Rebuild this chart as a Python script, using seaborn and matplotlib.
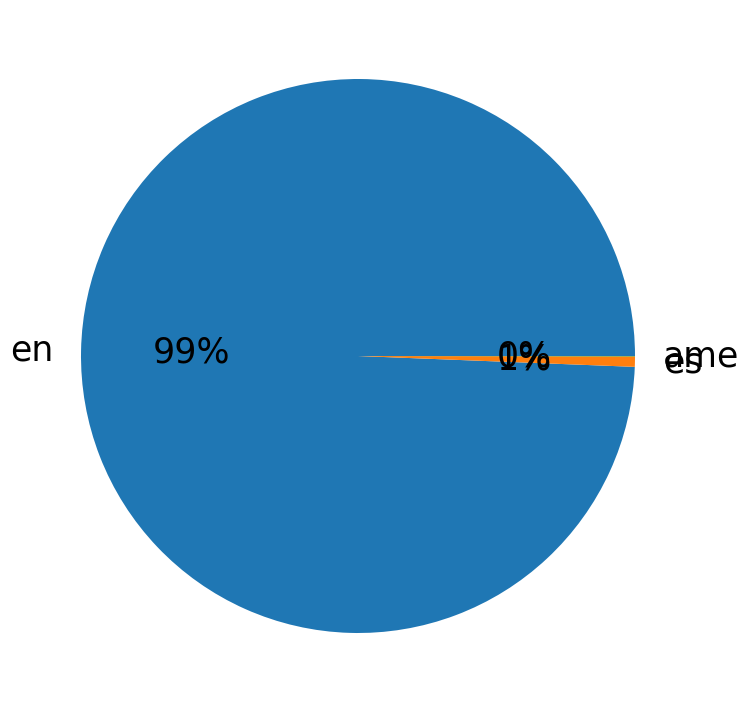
import matplotlib
matplotlib.use("Agg")
import matplotlib.pyplot as plt
import seaborn as sns

# language counts
languages = ["en", "es", "ame"]
counts = [3975, 24, 1]

colors = sns.color_palette("tab10", len(languages))

fig = plt.figure(figsize=(7.5, 7.13), dpi=100)
ax = fig.add_axes([11.75 / 750, 10.75 / 713, 692.5 / 750, 692.5 / 713])
ax.pie(counts, labels=languages, colors=colors, autopct="%.0f%%",
       textprops={"fontsize": 25})
ax.set_position([11.75 / 750, 10.75 / 713, 692.5 / 750, 692.5 / 713])

fig.savefig("out.png", dpi=100)
